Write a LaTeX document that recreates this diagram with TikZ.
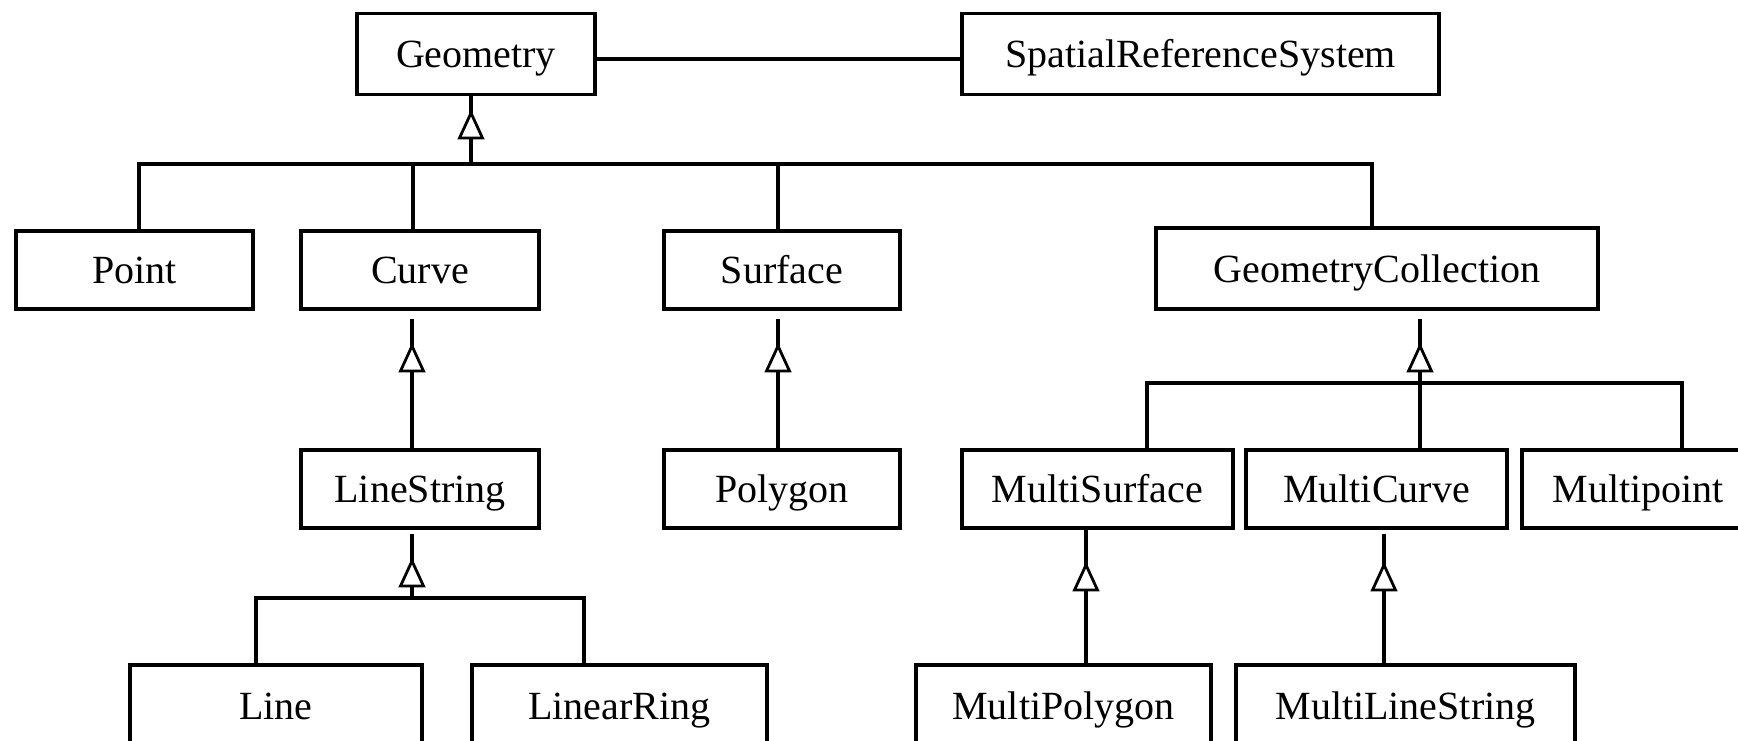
\documentclass[tikz,border=0pt]{standalone}
\usepackage{fontspec}
\setmainfont{Liberation Serif}
\begin{document}
\begin{tikzpicture}[x=1pt,y=-1pt,
  line width=3.2pt,
  cls/.style={draw, rectangle, inner sep=0pt, minimum height=78pt,
    font=\fontsize{40}{48}\selectfont, text height=27pt, text depth=0pt},
  gentri/.pic={\draw[fill=white, line width=2.8pt] (0,0) -- (11.5,25) -- (-11.5,25) -- cycle;}]
\useasboundingbox (0,0) rectangle (1738,740);
\clip (0,0) rectangle (1738,740);
% classes
\node[cls, minimum width=238pt, minimum height=81pt] (geom) at (476,54) {Geometry};
\node[cls, minimum width=477pt, minimum height=81pt] (srs) at (1200.5,54) {SpatialReferenceSystem};
\node[cls, minimum width=237pt] (point) at (134.5,270) {Point};
\node[cls, minimum width=238pt] (curve) at (420,270) {Curve};
\node[cls, minimum width=236pt] (surface) at (782,270) {Surface};
\node[cls, minimum width=442pt, minimum height=81pt] (gc) at (1377,268.5) {GeometryCollection};
\node[cls, minimum width=238pt] (linestring) at (420,489) {LineString};
\node[cls, minimum width=236pt] (polygon) at (782,489) {Polygon};
\node[cls, minimum width=271pt] (msurf) at (1097.5,489) {MultiSurface};
\node[cls, minimum width=261pt] (mcurve) at (1376.5,489) {MultiCurve};
\node[cls, minimum width=232pt] (mpoint) at (1638,489) {Multipoint};
\node[cls, minimum width=292pt, minimum height=81pt] (line) at (276,705.5) {Line};
\node[cls, minimum width=295pt, minimum height=81pt] (lring) at (619.5,705.5) {LinearRing};
\node[cls, minimum width=295pt, minimum height=81pt] (mpoly) at (1063.5,705.5) {MultiPolygon};
\node[cls, minimum width=339pt, minimum height=81pt] (mls) at (1405.5,705.5) {MultiLineString};
% association
\draw ([yshift=-5pt]geom.east) -- ([yshift=-5pt]srs.west);
% bus junctions
\coordinate (b1) at (471,164);
\coordinate (b2) at (412,598);
\coordinate (b3) at (1420,383);
% Geometry hierarchy
\draw ([xshift=-5pt]geom.south) -- (b1);
\draw (b1) -| ([xshift=4.5pt]point.north);
\draw (b1) -| ([xshift=-7pt]curve.north);
\draw (b1) -| ([xshift=-4pt]surface.north);
\draw (b1) -| ([xshift=-5pt]gc.north);
\pic at (471,113) {gentri};
% Curve -> LineString
\draw ([xshift=-8pt,yshift=-8pt]curve.south) -- ([xshift=-8pt]linestring.north);
\pic at (412,346) {gentri};
% Surface -> Polygon
\draw ([xshift=-4pt,yshift=-8pt]surface.south) -- ([xshift=-4pt]polygon.north);
\pic at (778,346) {gentri};
% GeometryCollection -> Multi*
\draw ([xshift=43pt,yshift=-8pt]gc.south) -- (b3) -- (mcurve.north -| b3);
\draw (b3) -| ([xshift=49.5pt]msurf.north);
\draw (b3) -| ([xshift=44pt]mpoint.north);
\pic at (1420,346) {gentri};
% LineString -> Line, LinearRing
\draw ([xshift=-8pt,yshift=-4pt]linestring.south) -- (b2);
\draw (b2) -| ([xshift=-20pt]line.north);
\draw (b2) -| ([xshift=-35.5pt]lring.north);
\pic at (412,561) {gentri};
% MultiSurface -> MultiPolygon
\draw ([xshift=-11.5pt]msurf.south) -- ([xshift=22.5pt]mpoly.north);
\pic at (1086,565) {gentri};
% MultiCurve -> MultiLineString
\draw ([xshift=7.5pt,yshift=-4pt]mcurve.south) -- ([xshift=-21.5pt]mls.north);
\pic at (1384,565) {gentri};
\end{tikzpicture}
\end{document}
